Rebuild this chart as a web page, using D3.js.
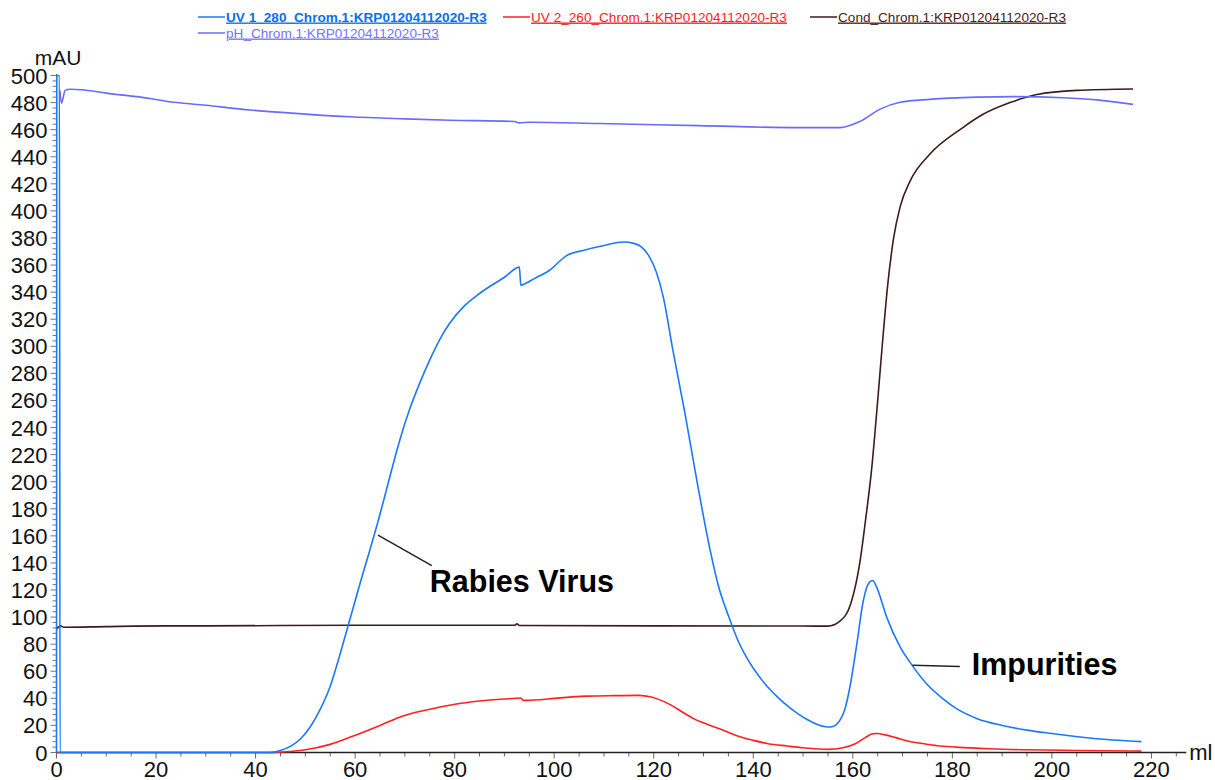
<!DOCTYPE html>
<html><head><meta charset="utf-8">
<script src="https://cdn.jsdelivr.net/npm/d3@7"></script>
<style>
body{margin:0;background:#fff;}
svg{display:block;font-family:Arial,"Liberation Sans",sans-serif;}
</style></head>
<body><svg id="c" width="1215" height="780"></svg>
<script>
// ---- data (ml, mAU) ----
const uv1 = [[0,0],[0.05,500],[0.6,500],[0.7,0],[43,0],[45,1.5],[47,4.5],[49,10],[51,19],[53,32],[55,49],[57,73],[59,99],[61,125],[63,150],[65,176],[67,204],[69,231],[71,254],[73,273],[75,290],[77,305],[79,317],[82,330],[85,339],[90,351],[93,358.5],[93.3,345],[94,346],[96,350],[99,356],[102.5,367],[106,371],[110,374.5],[113.9,377],[116,376],[117.5,373.5],[119,367],[120.5,355],[122,335],[123.7,300],[126.3,250],[128.7,200],[131.3,150],[133,123],[135.1,100],[137,82],[139,68],[141,57],[143,48],[145,40.5],[147,34],[149,28.5],[151,24],[153,20.5],[154.5,19],[155.5,18.8],[156.5,20],[157.6,25],[158.4,32],[159.4,48],[160.8,80],[162.1,112],[163.4,126],[164,127],[164.8,122],[166.8,100],[169.5,78],[172,64],[175,50],[178,40],[181,32],[185,25],[190,20],[195,16.5],[200,14],[208,10.5],[218,8]];
const uv2 = [[0,0],[44,0],[46,0.5],[50,2],[55,6],[59.5,12],[65,20],[69.6,27],[75,32],[79.8,35.5],[85,38],[90,39.5],[93.3,40.2],[93.8,38.5],[97,39],[100,40],[106.8,41.6],[112,42],[117,42.2],[119.5,41],[121.5,38.5],[123.5,35],[125.5,30.5],[128,25],[130.6,21],[133.2,17.5],[137,12],[140,9],[143,6.5],[146.8,4.8],[150,3.5],[155,2.3],[158,3.5],[160.5,6.5],[162.5,11],[164,13.8],[165,14],[166.5,13],[168.6,11],[171,8.5],[174,6.6],[177,5],[180.8,4],[187.5,2.8],[195,2],[205,1.5],[218,1]];
const cond = [[0,91],[0.8,93.5],[1.5,92.5],[10,93],[22,93.5],[30,93.5],[60,94],[92,94],[92.5,95],[93,93.8],[120,93.5],[150,93.4],[155,93.3],[157.4,97],[159.6,110],[161.4,140],[162.5,170],[163.8,210],[165,260],[165.9,300],[167,345],[168.2,380],[169.5,403],[171.5,422],[175.5,442],[181.9,461],[186,471],[191.6,480],[197,486],[205,489],[216.3,490]];
const ph = [[0.7,488.8],[1.0,479.5],[1.3,483],[1.7,488.8],[2.7,489.8],[5,489.5],[10,487],[18.8,483],[22,481],[30,478],[38.9,474.5],[50,471.5],[59,469.5],[70,468],[79,467],[92,466],[93,465],[95,465.5],[109,464.5],[129,463],[149.4,461.5],[157.4,461.5],[161.4,466],[165.4,475],[169.5,480.2],[175.5,482.4],[185,484],[192.2,484.4],[202.2,483.6],[209,482],[216.3,478.7]];

const xTicks = [0,20,40,60,80,100,120,140,160,180,200,220];
const yTicks = [0,20,40,60,80,100,120,140,160,180,200,220,240,260,280,300,320,340,360,380,400,420,440,460,480,500];
const legendItems = [
  {name:"UV 1_280_Chrom.1:KRP01204112020-R3", color:"#1a78ff", text:"#0a6fe8", weight:"bold", row:0, x:198},
  {name:"UV 2_260_Chrom.1:KRP01204112020-R3", color:"#ff2020", text:"#ff1a1a", weight:"normal", row:0, x:503},
  {name:"Cond_Chrom.1:KRP01204112020-R3", color:"#3c1c1c", text:"#4a2020", weight:"normal", row:0, x:810},
  {name:"pH_Chrom.1:KRP01204112020-R3", color:"#6a6aff", text:"#7474ff", weight:"normal", row:1, x:198}
];
const annotations = [
  {label:"Rabies Virus", from:[64.6,160.5], to:[75.4,138], text:[75,118.5]},
  {label:"Impurities", from:[172,64.5], to:[181.5,63.5], text:[183.9,57.4]}
];

// ---- scales ----
const svg = d3.select("#c");
const x = d3.scaleLinear().domain([0,227]).range([56.5, 56.5+227*4.977]);
const y = d3.scaleLinear().domain([0,500]).range([752.5, 75.5]);

// axes
const xMinor = d3.range(0,226,5);
const yMinor = d3.range(0,501,4);
const ax = svg.append("g");
ax.selectAll(".xm").data(xMinor).join("line")
  .attr("x1",d=>x(d)).attr("x2",d=>x(d)).attr("y1",y(0)).attr("y2",d=>y(0)+(d%20===0?6:4))
  .attr("stroke","#666").attr("stroke-width",1);
ax.selectAll(".ym").data(yMinor).join("line")
  .attr("x1",x(0)).attr("x2",d=>x(0)-(d%20===0?6:4)).attr("y1",d=>y(d)).attr("y2",d=>y(d))
  .attr("stroke","#777").attr("stroke-width",1);
ax.append("line").attr("x1",x(0)).attr("x2",x(227)).attr("y1",y(0)).attr("y2",y(0)).attr("stroke","#222").attr("stroke-width",1.5);
ax.append("line").attr("x1",x(0)).attr("x2",x(0)).attr("y1",y(0)).attr("y2",y(501)).attr("stroke","#444").attr("stroke-width",1);
ax.selectAll(".xl").data(xTicks).join("text")
  .attr("x",d=>x(d)).attr("y",y(0)+24).attr("text-anchor","middle").attr("font-size",22).attr("fill","#111").text(d=>d);
ax.selectAll(".yl").data(yTicks).join("text")
  .attr("x",x(0)-9).attr("y",d=>y(d)+8).attr("text-anchor","end").attr("font-size",22).attr("fill","#111").text(d=>d);
ax.append("text").attr("x",58).attr("y",65).attr("text-anchor","middle").attr("font-size",21).attr("fill","#111").text("mAU");
ax.append("text").attr("x",x(227)+3).attr("y",y(0)+7).attr("font-size",22).attr("fill","#111").text("ml");

// lines
const line = d3.line().x(d=>x(d[0])).y(d=>y(d[1])).curve(d3.curveMonotoneX);
const series = [
  {data:cond, color:"#3c1c1c"},
  {data:ph, color:"#6a6aff"},
  {data:uv2, color:"#ff2020"},
  {data:uv1, color:"#1a78ff"}
];
svg.selectAll(".s").data(series).join("path")
  .attr("d",d=>line(d.data)).attr("fill","none").attr("stroke",d=>d.color).attr("stroke-width",1.6);

// legend
const lg = svg.selectAll(".lg").data(legendItems).join("g").attr("transform",d=>`translate(${d.x},${d.row?33:17})`);
lg.append("line").attr("x1",0).attr("x2",27).attr("stroke",d=>d.color).attr("stroke-width",1.5);
lg.append("text").attr("x",28).attr("y",4.5).attr("font-size",13.6).attr("font-weight",d=>d.weight)
  .attr("fill",d=>d.text).style("text-decoration","underline").text(d=>d.name);

// annotations
const an = svg.selectAll(".an").data(annotations).join("g");
an.append("line").attr("x1",d=>x(d.from[0])).attr("y1",d=>y(d.from[1])).attr("x2",d=>x(d.to[0])).attr("y2",d=>y(d.to[1]))
  .attr("stroke","#222").attr("stroke-width",1.5);
an.append("text").attr("x",d=>x(d.text[0])).attr("y",d=>y(d.text[1])).attr("font-size",30.5).attr("font-weight","bold").attr("fill","#000").text(d=>d.label);
</script></body></html>
